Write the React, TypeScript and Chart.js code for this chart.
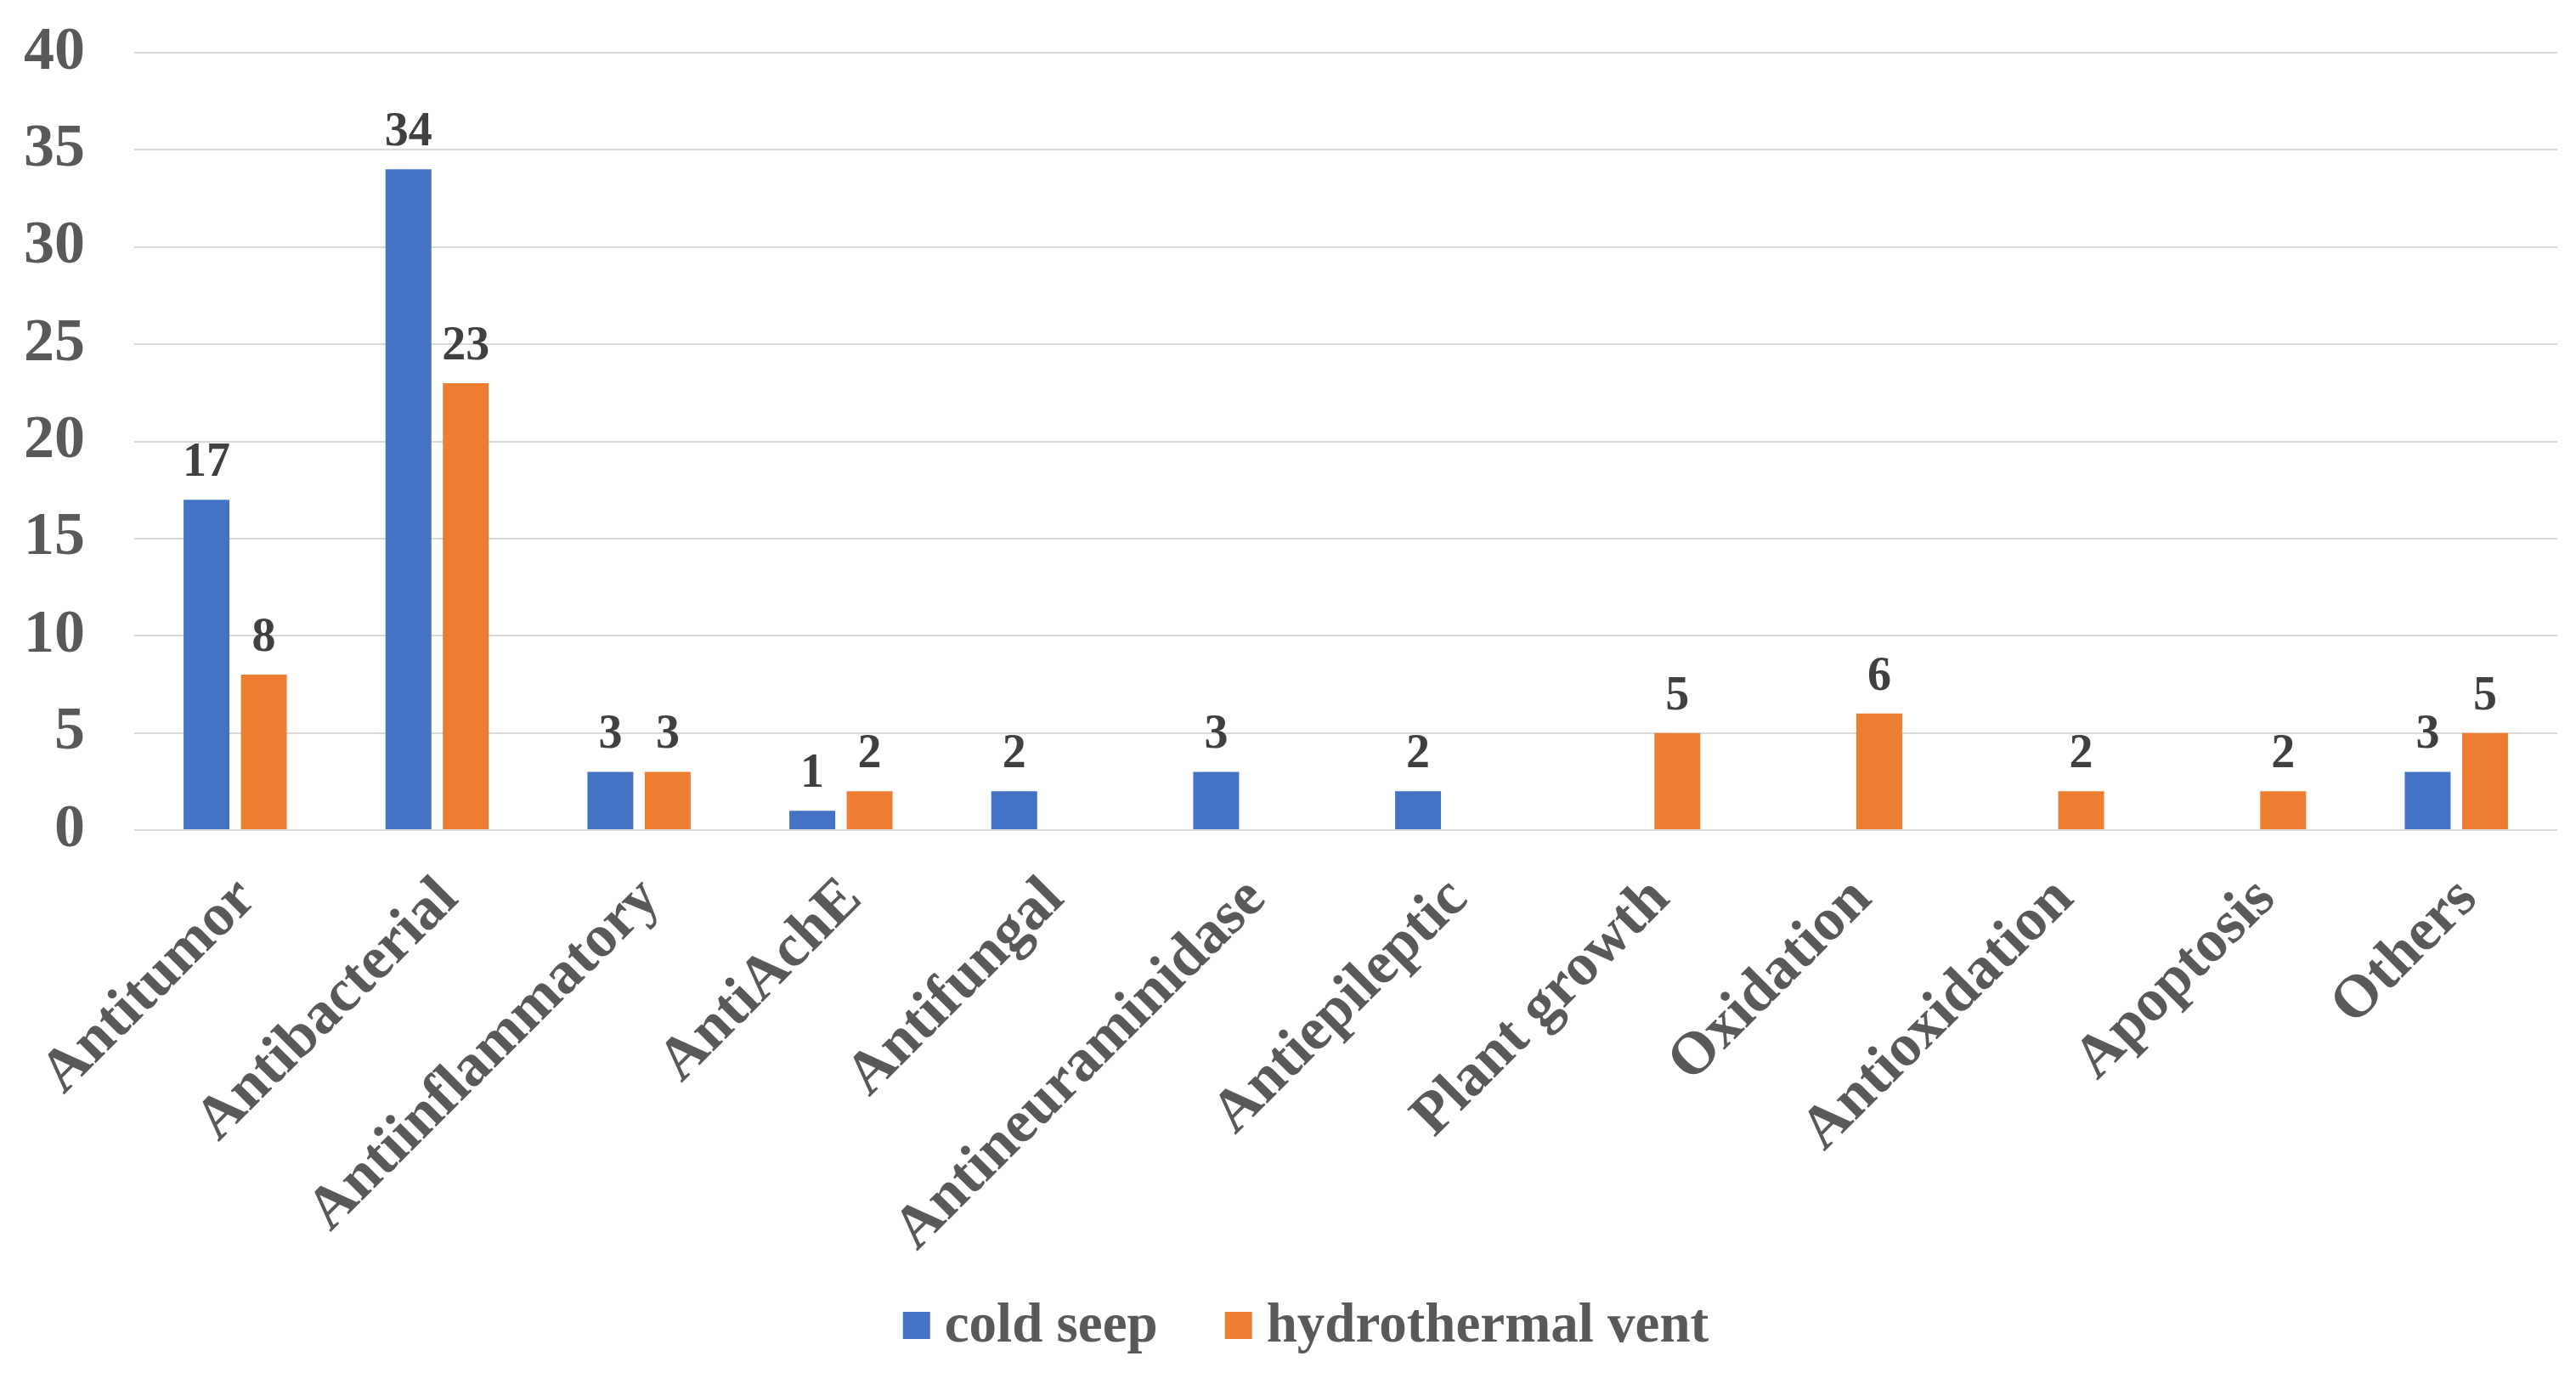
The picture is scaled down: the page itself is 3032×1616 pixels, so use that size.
import React, { useEffect, useRef } from "react";
import { Chart, registerables } from "chart.js";

Chart.register(...registerables);

const categories = [
  "Antitumor",
  "Antibacterial",
  "Antiinflammatory",
  "AntiAchE",
  "Antifungal",
  "Antineuraminidase",
  "Antiepileptic",
  "Plant growth",
  "Oxidation",
  "Antioxidation",
  "Apoptosis",
  "Others",
];

const coldSeep: (number | null)[] = [17, 34, 3, 1, 2, 3, 2, null, null, null, null, 3];
const hydrothermalVent: (number | null)[] = [8, 23, 3, 2, null, null, null, 5, 6, 2, 2, 5];

const seriesNames = ["cold seep", "hydrothermal vent"];
const seriesColors = ["#4472C4", "#ED7D31"];
const yMin = 0;
const yMax = 40;
const yStep = 5;

const FONT = '"Liberation Serif", "Times New Roman", serif';

const valueLabels = {
  id: "valueLabels",
  afterDatasetsDraw(chart: any) {
    const ctx = chart.ctx;
    ctx.save();
    ctx.font = `bold 56px ${FONT}`;
    ctx.fillStyle = "#404040";
    ctx.textAlign = "center";
    ctx.textBaseline = "alphabetic";
    chart.data.datasets.forEach((ds: any, i: number) => {
      const meta = chart.getDatasetMeta(i);
      meta.data.forEach((bar: any, j: number) => {
        const v = ds.data[j];
        if (v === null || v === undefined) return;
        ctx.fillText(String(v), bar.x, bar.y - 28);
      });
    });
    ctx.restore();
  },
};

// Bottom legend drawn to match the reference spacing (small box-to-text gap, wide item gap)
const bottomLegend = {
  id: "bottomLegend",
  afterDraw(chart: any) {
    const ctx = chart.ctx;
    const box = 32;
    const gap = 17;
    const itemGap = 79;
    const cy = 1552;
    ctx.save();
    ctx.font = `bold 65px ${FONT}`;
    ctx.textBaseline = "middle";
    ctx.textAlign = "left";
    const items = chart.data.datasets.map((ds: any) => ({
      text: ds.label,
      color: ds.backgroundColor,
      w: ctx.measureText(ds.label).width,
    }));
    const total =
      items.reduce((s: number, it: any) => s + box + gap + it.w, 0) + itemGap * (items.length - 1);
    let x = chart.width / 2 + 21 - total / 2;
    items.forEach((it: any) => {
      ctx.fillStyle = it.color;
      ctx.fillRect(x, cy - box / 2, box, box);
      x += box + gap;
      ctx.fillStyle = "#595959";
      ctx.fillText(it.text, x, cy + 2);
      x += it.w + itemGap;
    });
    ctx.restore();
  },
};

export default function App() {
  const ref = useRef<HTMLCanvasElement | null>(null);

  useEffect(() => {
    if (!ref.current) return;
    const chart = new Chart(ref.current, {
      type: "bar",
      data: {
        labels: categories,
        datasets: [
          {
            label: seriesNames[0],
            data: coldSeep,
            backgroundColor: seriesColors[0],
            borderWidth: 0,
            categoryPercentage: 0.568,
            barPercentage: 0.8,
          },
          {
            label: seriesNames[1],
            data: hydrothermalVent,
            backgroundColor: seriesColors[1],
            borderWidth: 0,
            categoryPercentage: 0.568,
            barPercentage: 0.8,
          },
        ],
      },
      options: {
        responsive: true,
        maintainAspectRatio: false,
        animation: false,
        layout: { padding: { left: 20, right: 14, top: 54, bottom: 0 } },
        plugins: {
          tooltip: { enabled: false },
          legend: { display: false },
        },
        scales: {
          x: {
            grid: { display: false, drawTicks: false },
            border: { display: false },
            ticks: {
              autoSkip: false,
              minRotation: 45,
              maxRotation: 45,
              padding: 40,
              labelOffset: 14,
              color: "#595959",
              font: { family: FONT, size: 71, weight: "bold" },
            },
            afterFit(scale: any) {
              scale.height = 631;
              scale.paddingLeft = 0;
              scale.paddingRight = 0;
            },
          },
          y: {
            min: yMin,
            max: yMax,
            grid: { color: "#D9D9D9", lineWidth: 2, drawTicks: false },
            border: { display: false },
            ticks: {
              stepSize: yStep,
              padding: 58,
              color: "#595959",
              font: { family: FONT, size: 72, weight: "bold" },
            },
            afterFit(scale: any) {
              scale.width = 130;
              scale.paddingTop = 0;
              scale.paddingBottom = 0;
            },
          },
        },
      },
      plugins: [valueLabels, bottomLegend],
    });
    return () => chart.destroy();
  }, []);

  return (
    <div style={{ width: "3016px", height: "1600px", position: "relative" }}>
      <canvas ref={ref} />
    </div>
  );
}
